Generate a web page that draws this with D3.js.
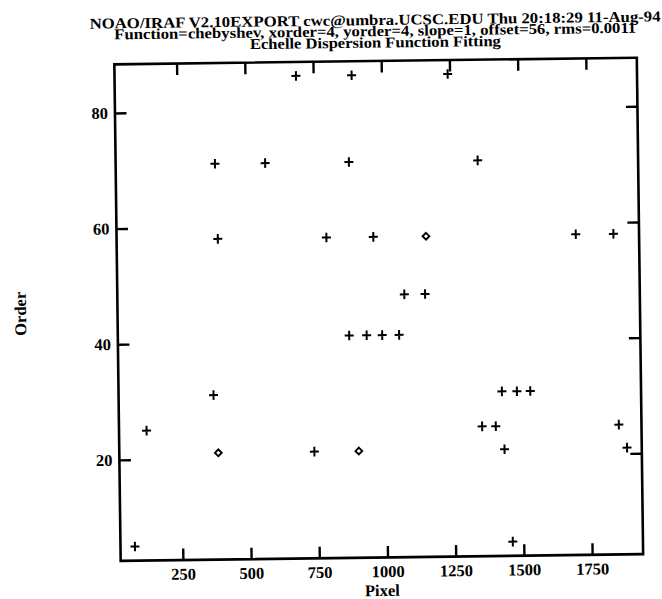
<!DOCTYPE html>
<html>
<head>
<meta charset="utf-8">
<script src="https://cdn.jsdelivr.net/npm/d3@7"></script>
<style>
  html, body { margin: 0; padding: 0; background: #fff; }
  svg { display: block; }
  text { font-family: "Liberation Serif", "DejaVu Serif", serif; font-weight: bold; fill: #000; }
</style>
</head>
<body>
<script>
// Fitted line positions: pixel column and echelle order
const pixelPlus = [687, 891, 1243, 386, 570, 877, 1349, 393, 791, 963, 1705, 1843,
                   1074, 1150, 870, 934, 991, 1053, 1427, 1482, 1531, 370,
                   123, 1353, 1403, 1854, 1434, 1883, 737, 75, 1460];
const orderPlus = [86, 86, 86, 71, 71, 71, 71, 58, 58, 58, 58, 58,
                   48, 48, 41, 41, 41, 41, 31, 31, 31, 31,
                   25, 25, 25, 25, 21, 21, 21, 5, 5];
// Points marked as rejected
const pixelDiamond = [1156, 385, 900];
const orderDiamond = [58, 21, 21];

const xTickValues = [250, 500, 750, 1000, 1250, 1500, 1750];
const yTickValues = [20, 40, 60, 80];
const titleLines = [
  "NOAO/IRAF V2.10EXPORT cwc@umbra.UCSC.EDU Thu 20:18:29 11-Aug-94",
  "Function=chebyshev, xorder=4, yorder=4, slope=1, offset=56, rms=0.0011",
  "Echelle Dispersion Function Fitting"
];

const W = 662, H = 599;
const plot = { left: 117.5, right: 640, top: 61, bottom: 557.5 };

const svg = d3.select("body").append("svg")
  .attr("width", W).attr("height", H);
svg.append("rect").attr("width", W).attr("height", H).attr("fill", "#fff");

// whole sheet sits slightly tilted
const g = svg.append("g").attr("transform", "rotate(-0.73, 379, 310)");

const x = d3.scaleLinear().domain([22, 1937]).range([plot.left, plot.right]);
const y = d3.scaleLinear().domain([2.55, 88.4]).range([plot.bottom, plot.top]);

const tickLen = 11.5;

function styleAxis(sel) {
  sel.select(".domain").remove();
  sel.selectAll(".tick line").attr("stroke", "#000").attr("stroke-width", 2.4);
  sel.selectAll(".tick text")
    .style("font-family", '"Liberation Serif", serif')
    .style("font-weight", "bold")
    .style("font-size", "16.5px")
    .attr("fill", "#000");
}

g.append("g")
  .attr("transform", `translate(0,${plot.bottom})`)
  .call(d3.axisBottom(x).tickValues(xTickValues).tickSizeInner(-tickLen).tickSizeOuter(0).tickPadding(8).tickFormat(d3.format("d")))
  .call(styleAxis);

g.append("g")
  .attr("transform", `translate(0,${plot.top})`)
  .call(d3.axisTop(x).tickValues(xTickValues).tickSizeInner(-tickLen).tickSizeOuter(0).tickFormat(""))
  .call(styleAxis);

g.append("g")
  .attr("transform", `translate(${plot.left},0)`)
  .call(d3.axisLeft(y).tickValues(yTickValues).tickSizeInner(-tickLen).tickSizeOuter(0).tickPadding(7).tickFormat(d3.format("d")))
  .call(styleAxis);

g.append("g")
  .attr("transform", `translate(${plot.right},0)`)
  .call(d3.axisRight(y).tickValues(yTickValues).tickSizeInner(-tickLen).tickSizeOuter(0).tickFormat(""))
  .call(styleAxis);

// frame
g.append("rect")
  .attr("x", plot.left).attr("y", plot.top)
  .attr("width", plot.right - plot.left).attr("height", plot.bottom - plot.top)
  .attr("fill", "none").attr("stroke", "#000").attr("stroke-width", 2.6);

// plus markers
const plusData = pixelPlus.map((p, i) => ({ p, o: orderPlus[i] }));
g.append("g").selectAll("path.plus").data(plusData).join("path")
  .attr("class", "plus")
  .attr("transform", d => `translate(${x(d.p)},${y(d.o)})`)
  .attr("d", "M-4.5,0H4.5M0,-4.8V4.8")
  .attr("stroke", "#000").attr("stroke-width", 2).attr("fill", "none");

// diamond markers
const diamondData = pixelDiamond.map((p, i) => ({ p, o: orderDiamond[i] }));
g.append("g").selectAll("path.diamond").data(diamondData).join("path")
  .attr("class", "diamond")
  .attr("transform", d => `translate(${x(d.p)},${y(d.o)})`)
  .attr("d", "M0,-3.4L3.4,0L0,3.4L-3.4,0Z")
  .attr("stroke", "#000").attr("stroke-width", 1.9).attr("fill", "#fff");

// title block
const cx = (plot.left + plot.right) / 2;
const titleBase = [25, 36, 47.5];
const titleWidth = [571, 522, 251];
titleLines.forEach((t, i) => {
  g.append("text")
    .attr("x", cx).attr("y", titleBase[i])
    .attr("text-anchor", "middle")
    .attr("textLength", titleWidth[i])
    .attr("lengthAdjust", "spacingAndGlyphs")
    .style("font-size", "15px")
    .text(t);
});

// axis titles
g.append("text")
  .attr("x", cx).attr("y", 596)
  .attr("text-anchor", "middle")
  .style("font-size", "16.5px")
  .text("Pixel");

g.append("text")
  .attr("transform", `translate(26,${(plot.top + plot.bottom) / 2}) rotate(-90)`)
  .attr("text-anchor", "middle")
  .style("font-size", "16.5px")
  .text("Order");
</script>
</body>
</html>
